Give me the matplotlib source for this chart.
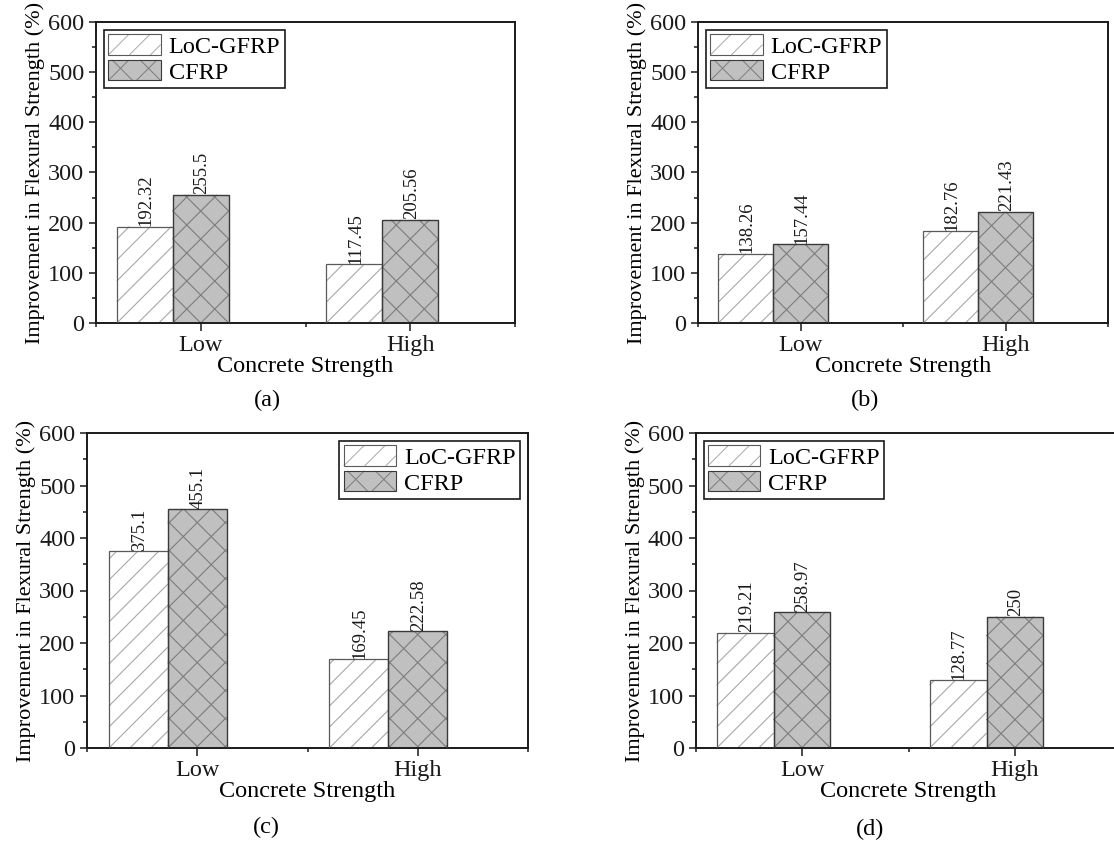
import matplotlib
matplotlib.use('Agg')
import matplotlib.pyplot as plt
import numpy as np
from matplotlib.ticker import MultipleLocator, FixedLocator
from matplotlib.collections import LineCollection
from matplotlib.patches import Rectangle, Patch
from matplotlib.legend_handler import HandlerBase

plt.rcParams['font.family'] = ['Liberation Serif', 'DejaVu Serif']

W, H, DPI = 1114, 843, 100

# ---------------- data ----------------
categories = ['Low', 'High']
series_names = ['LoC-GFRP', 'CFRP']
panel_labels = ['(a)', '(b)', '(c)', '(d)']
x_label = 'Concrete Strength'
y_label = 'Improvement in Flexural Strength (%)'
y_ticks = [0, 100, 200, 300, 400, 500, 600]

gfrp_a = [192.32, 117.45]
cfrp_a = [255.5, 205.56]
gfrp_b = [138.26, 182.76]
cfrp_b = [157.44, 221.43]
gfrp_c = [375.1, 169.45]
cfrp_c = [455.1, 222.58]
gfrp_d = [219.21, 128.77]
cfrp_d = [258.97, 250]

# ---------------- layout (pixel boxes: left, top, right, bottom) ----------------
boxes = [(96, 22, 515, 323), (698, 22, 1108, 323),
         (87, 433, 528, 748), (695.5, 433, 1121.5, 748)]
legend_locs = ['upper left', 'upper left', 'upper right', 'upper left']
caption_pos = [(267, 400), (865, 400), (266, 827), (870, 829)]
gfrp_data = [gfrp_a, gfrp_b, gfrp_c, gfrp_d]
cfrp_data = [cfrp_a, cfrp_b, cfrp_c, cfrp_d]

BAR_W = 0.267
GF_FACE, GF_EDGE, GF_HATCH = 'white', '#5a5a5a', '#a8a8a8'
CF_FACE, CF_EDGE, CF_HATCH = '#c0c0c0', '#3a3a3a', '#7c7c7c'
GF_S, CF_S = 21.0, 28.0   # hatch spacing in pixels


def hatch_segments(x0, y0, x1, y1, s, direction):
    segs = []
    if direction > 0:   # y = x + c
        c0 = y0 - x0
        kmin = int(np.ceil((y0 - x1 - c0) / s))
        kmax = int(np.floor((y1 - x0 - c0) / s))
        for k in range(kmin, kmax + 1):
            c = c0 + k * s
            xa, xb = max(x0, y0 - c), min(x1, y1 - c)
            if xb - xa > 0.3:
                segs.append([(xa, xa + c), (xb, xb + c)])
    else:               # y = -x + c
        c0 = y0 + x1
        kmin = int(np.ceil((y0 + x0 - c0) / s))
        kmax = int(np.floor((y1 + x1 - c0) / s))
        for k in range(kmin, kmax + 1):
            c = c0 + k * s
            xa, xb = max(x0, c - y1), min(x1, c - y0)
            if xb - xa > 0.3:
                segs.append([(xa, c - xa), (xb, c - xb)])
    return segs


class HatchHandler(HandlerBase):
    def __init__(self, face, edge, hcolor, spacing_px, dirs, lw_edge, lw_hatch):
        super().__init__()
        self.face, self.edge, self.hcolor = face, edge, hcolor
        self.s = spacing_px * 72.0 / DPI
        self.dirs, self.lw_edge, self.lw_hatch = dirs, lw_edge, lw_hatch

    def create_artists(self, legend, orig_handle, xdescent, ydescent,
                       width, height, fontsize, trans):
        x0, y0 = -xdescent, -ydescent
        x1, y1 = x0 + width, y0 + height
        fill = Rectangle((x0, y0), width, height, facecolor=self.face,
                         edgecolor='none', transform=trans)
        segs = []
        for d in self.dirs:
            segs += hatch_segments(x0, y0, x1, y1, self.s, d)
        lc = LineCollection(segs, colors=self.hcolor, linewidths=self.lw_hatch,
                            transform=trans)
        edge = Rectangle((x0, y0), width, height, fill=False,
                         edgecolor=self.edge, linewidth=self.lw_edge, transform=trans)
        return [fill, lc, edge]


def add_hatch(ax, rects, spacing, dirs, color, lw):
    inv = ax.transData.inverted()
    allsegs = []
    for r in rects:
        x0, y0 = ax.transData.transform((r.get_x(), r.get_y()))
        x1, y1 = ax.transData.transform((r.get_x() + r.get_width(),
                                         r.get_y() + r.get_height()))
        for d in dirs:
            for seg in hatch_segments(x0, y0, x1, y1, spacing, d):
                allsegs.append(inv.transform(np.array(seg)))
    ax.add_collection(LineCollection(allsegs, colors=color, linewidths=lw, zorder=2.5))


fig = plt.figure(figsize=(W / DPI, H / DPI), dpi=DPI)
x = np.arange(1, len(categories) + 1)

for i in range(4):
    l, t, r, b = boxes[i]
    ax = fig.add_axes([l / W, 1 - b / H, (r - l) / W, (b - t) / H])
    ax.set_xlim(0.5, 2.5)
    ax.set_ylim(0, 600)

    g = ax.bar(x - BAR_W, gfrp_data[i], BAR_W, color=GF_FACE, edgecolor='none', zorder=2)
    c = ax.bar(x, cfrp_data[i], BAR_W, color=CF_FACE, edgecolor='none', zorder=2)
    add_hatch(ax, g, GF_S, [1], GF_HATCH, 0.8)
    add_hatch(ax, c, CF_S, [1, -1], CF_HATCH, 0.8)
    ax.bar(x - BAR_W, gfrp_data[i], BAR_W, fill=False, edgecolor=GF_EDGE, linewidth=0.9, zorder=3)
    ax.bar(x, cfrp_data[i], BAR_W, fill=False, edgecolor=CF_EDGE, linewidth=1.0, zorder=3)

    for xi, v in zip(x - BAR_W, gfrp_data[i]):
        ax.annotate(f'{v:g}', (xi, v), xytext=(0.8, 0.3), textcoords='offset points',
                    rotation=90, ha='center', va='bottom', fontsize=13.5, color='#1a1a1a')
    for xi, v in zip(x, cfrp_data[i]):
        ax.annotate(f'{v:g}', (xi, v), xytext=(0.8, 0.3), textcoords='offset points',
                    rotation=90, ha='center', va='bottom', fontsize=13.5, color='#1a1a1a')

    ax.set_xticks(x)
    ax.set_xticklabels(categories)
    ax.xaxis.set_minor_locator(FixedLocator([0.5, 1.5, 2.5]))
    ax.set_yticks(y_ticks)
    ax.yaxis.set_minor_locator(MultipleLocator(50))
    ax.tick_params(which='both', direction='out', top=False, right=False,
                   labelsize=17.5, width=1.1, colors='#1a1a1a')
    ax.tick_params(which='major', length=5.4, pad=3.0)
    ax.tick_params(which='minor', length=3.0)
    for sp in ax.spines.values():
        sp.set_linewidth(1.4)
        sp.set_color('#1a1a1a')
    ax.set_xlabel(x_label, fontsize=17.5, labelpad=0.5)
    ax.set_ylabel(y_label, fontsize=16, labelpad=2)

    h1 = Patch(label=series_names[0])
    h2 = Patch(label=series_names[1])
    leg = ax.legend(handles=[h1, h2], loc=legend_locs[i], fontsize=17.5,
                    handler_map={h1: HatchHandler(GF_FACE, GF_EDGE, GF_HATCH, GF_S, [1], 0.8, 0.7),
                                 h2: HatchHandler(CF_FACE, CF_EDGE, CF_HATCH, CF_S, [1, -1], 0.8, 0.7)},
                    handlelength=2.15, handleheight=0.92, handletextpad=0.33,
                    borderpad=0.18, labelspacing=0.08, borderaxespad=0.33,
                    fancybox=False, framealpha=1, edgecolor='#1a1a1a')
    leg.get_frame().set_linewidth(1.2)

    cx, cy = caption_pos[i]
    fig.text(cx / W, 1 - cy / H, panel_labels[i], ha='center', va='center', fontsize=17.5)

fig.savefig('out.png', dpi=DPI)
